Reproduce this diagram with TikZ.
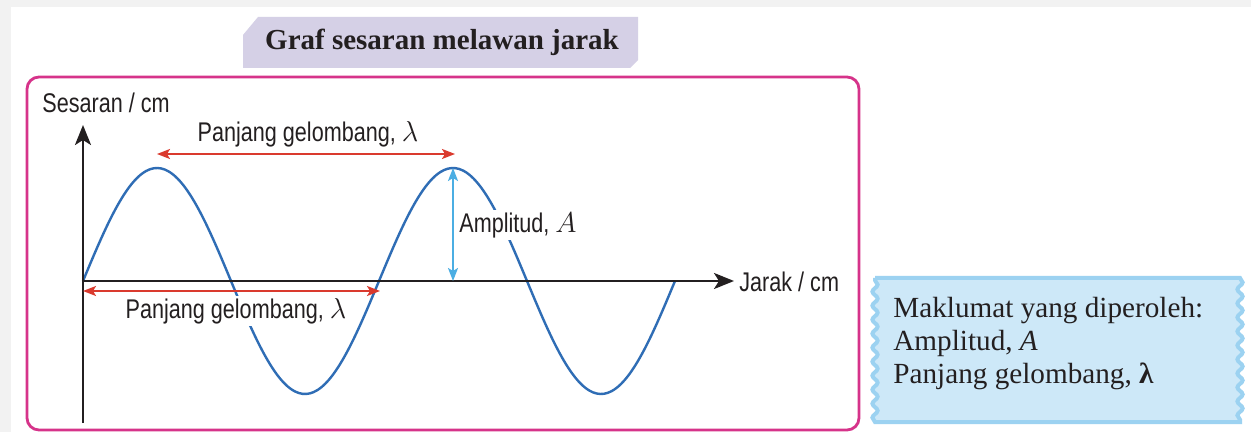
\documentclass[tikz,border=0pt]{standalone}
\usepackage{fontspec}
\setmainfont{Liberation Serif}
\newfontfamily\labelfont[FakeStretch=0.8]{Liberation Sans}
\usepackage{tikz}
\usetikzlibrary{arrows.meta, positioning, decorations.pathmorphing}
\definecolor{framepink}{HTML}{D6338A}
\definecolor{titlelilac}{HTML}{D5D0E6}
\definecolor{waveblue}{HTML}{2F6DB5}
\definecolor{lamred}{HTML}{DA3A2E}
\definecolor{ampblue}{HTML}{4BAEE3}
\definecolor{notefill}{HTML}{CDE8F8}
\definecolor{noteedge}{HTML}{9CD2F1}
\definecolor{inkgray}{HTML}{231F20}
\definecolor{bggray}{HTML}{F2F2F2}

\begin{document}
\begin{tikzpicture}[
    x=0.5pt, y=-0.5pt,
    axis/.style={draw=inkgray, line width=1.3pt, -{Stealth[length=10pt, width=8pt, inset=2.5pt]}},
    wave/.style={draw=waveblue, line width=1.2pt},
    lamarrow/.style={draw=lamred, line width=1pt, {Stealth[length=6.5pt, width=5pt, inset=1.5pt]}-{Stealth[length=6.5pt, width=5pt, inset=1.5pt]}},
    amparrow/.style={draw=ampblue, line width=1pt, {Stealth[length=6.5pt, width=5pt, inset=1.5pt]}-{Stealth[length=6.5pt, width=5pt, inset=1.5pt]}},
    label/.style={font=\labelfont\fontsize{13.5}{15}\selectfont, text=inkgray, inner sep=1pt},
    masked/.style={fill=white}
]
    \useasboundingbox (0,0) rectangle (1251,432);

    % Latar
    \fill[bggray] (0,0) rectangle (1251,432);
    \fill[white] (11,7) rectangle (1251,432);

    % Tajuk
    \fill[titlelilac] (243,35) -- (258,17) -- (638,17) -- (638,60) -- (630,68) -- (243,68) -- cycle;
    \node[font=\bfseries\fontsize{14.5}{17}\selectfont, text=inkgray] (title) at (442,42) {Graf sesaran melawan jarak};

    % Bingkai graf
    \draw[framepink, line width=1.4pt, rounded corners=6pt] (27,77) rectangle (859,430);

    % Titik rujukan
    \coordinate (O)    at (83,281);
    \coordinate (ytop) at (83,125);
    \coordinate (ybot) at (83,423);
    \coordinate (xend) at (734,281);
    \coordinate (lamA) at (157,154);
    \coordinate (lamB) at (455,154);
    \coordinate (lamC) at (83,291);
    \coordinate (lamD) at (380,291);
    \coordinate (peak) at (453,168);
    \coordinate (foot) at (453,281);

    % Gelombang
    \draw[wave] plot[domain=0:2, samples=160, smooth] ({83+296*\x},{281-113*sin(\x*360)});

    % Paksi
    \draw[axis] (ybot) -- (ytop);
    \draw[axis] (O) -- (xend);
    \node[label] (ylabel) at (106,103) {Sesaran / cm};
    \node[label, anchor=west] (xlabel) at (737,282) {Jarak / cm};

    % Panjang gelombang
    \draw[lamarrow] (lamA) -- (lamB);
    \node[label] (lamtop) at (308,134) {Panjang gelombang, $\lambda$};
    \draw[lamarrow] (lamC) -- (lamD);
    \node[label, masked] (lambot) at (236,311) {Panjang gelombang, $\lambda$};

    % Amplitud
    \draw[amparrow] (peak) -- (foot);
    \node[label, masked, anchor=west] (amp) at (457,225) {Amplitud, $A$};

    % Maklumat
    \draw[noteedge, fill=notefill, line width=2pt]
        (875,278) -- (1240,278)
        decorate[decoration={snake, segment length=7pt, amplitude=1.3pt}] {-- (1240,422)}
        -- (875,422)
        decorate[decoration={snake, segment length=7pt, amplitude=1.3pt}] {-- (875,278)}
        -- cycle;
    \node[anchor=west, align=left, inner sep=0pt, text=inkgray, font=\fontsize{14.6}{16.5}\selectfont] (info) at (893,344)
        {Maklumat yang diperoleh:\\Amplitud, \textit{A}\\Panjang gelombang, \textbf{λ}};
\end{tikzpicture}
\end{document}
